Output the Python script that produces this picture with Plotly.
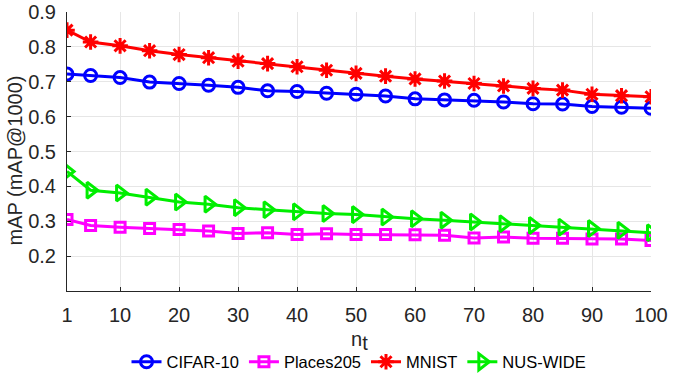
import plotly.graph_objects as go

nt = [1, 5, 10, 15, 20, 25, 30, 35, 40, 45, 50, 55, 60, 65, 70, 75, 80, 85, 90, 95, 100]
cifar10 = [0.722, 0.718, 0.712, 0.699, 0.695, 0.690, 0.684, 0.674, 0.672, 0.667, 0.664,
           0.659, 0.651, 0.648, 0.647, 0.642, 0.637, 0.636, 0.629, 0.627, 0.624]
places205 = [0.305, 0.288, 0.283, 0.279, 0.276, 0.272, 0.265, 0.267, 0.262, 0.264, 0.262,
             0.262, 0.261, 0.260, 0.252, 0.255, 0.251, 0.251, 0.249, 0.249, 0.245]
mnist = [0.848, 0.814, 0.803, 0.789, 0.778, 0.769, 0.759, 0.752, 0.743, 0.733, 0.724,
         0.716, 0.708, 0.702, 0.695, 0.688, 0.681, 0.676, 0.664, 0.660, 0.657]
nuswide = [0.443, 0.389, 0.381, 0.369, 0.355, 0.349, 0.339, 0.333, 0.327, 0.322, 0.319,
           0.312, 0.307, 0.303, 0.298, 0.293, 0.288, 0.283, 0.279, 0.274, 0.267]

x_ticks = [1, 10, 20, 30, 40, 50, 60, 70, 80, 90, 100]
y_ticks = [0.2, 0.3, 0.4, 0.5, 0.6, 0.7, 0.8, 0.9]

series = [
    ("CIFAR-10", cifar10, "#0000ff", "circle-open", 12),
    ("Places205", places205, "#ff00ff", "square-open", 10),
    ("MNIST", mnist, "#ff0000", "asterisk-open", 13),
    ("NUS-WIDE", nuswide, "#00ee00", "triangle-right-open", 14),
]

fig = go.Figure()
for name, vals, color, sym, size in series:
    fig.add_trace(go.Scatter(
        x=nt, y=vals, name=name, mode="lines+markers",
        line=dict(color=color, width=3),
        marker=dict(symbol=sym, size=size, color=color, line=dict(color=color, width=3)),
    ))

font_family = "Liberation Sans, Arial, sans-serif"
fig.update_layout(
    width=678, height=374,
    margin=dict(l=67, r=27, t=12, b=83, autoexpand=False),
    paper_bgcolor="white", plot_bgcolor="white",
    font=dict(family=font_family, size=20, color="#262626"),
    showlegend=True,
    legend=dict(orientation="h", x=0.5, xanchor="center",
                yref="container", y=0.032, yanchor="middle",
                font=dict(size=16.5, color="#000000"), itemwidth=30,
                bgcolor="rgba(0,0,0,0)"),
    xaxis=dict(range=[1, 100], tickvals=x_ticks, ticks="inside", ticklen=4,
               tickcolor="#262626", showline=True, linecolor="#262626", linewidth=1,
               showgrid=True, gridcolor="#e6e6e6", zeroline=False, automargin=False,
               ticklabelstandoff=6, ticklabeloverflow="allow"),
    yaxis=dict(range=[0.1, 0.9], tickvals=y_ticks, tickformat=".1f", ticks="inside", ticklen=4,
               tickcolor="#262626", showline=True, linecolor="#262626", linewidth=1,
               showgrid=True, gridcolor="#e6e6e6", zeroline=False, automargin=False,
               ticklabelstandoff=6, ticklabeloverflow="allow"),
    annotations=[
        dict(text="n<sub><span style='font-size:20px'>t</span></sub>",
             xref="paper", yref="paper", x=0.5, y=0,
             xanchor="center", yanchor="top", yshift=-35, showarrow=False,
             font=dict(size=20, color="#262626")),
        dict(text="mAP (mAP@1000)", xref="paper", yref="paper", x=0, y=0.5,
             xanchor="center", yanchor="middle", xshift=-53, yshift=-9, textangle=-90,
             showarrow=False, font=dict(size=20, color="#262626")),
    ],
)
fig.write_html("out.html", config={"displayModeBar": False},
               post_script="document.body.style.margin='0';")
